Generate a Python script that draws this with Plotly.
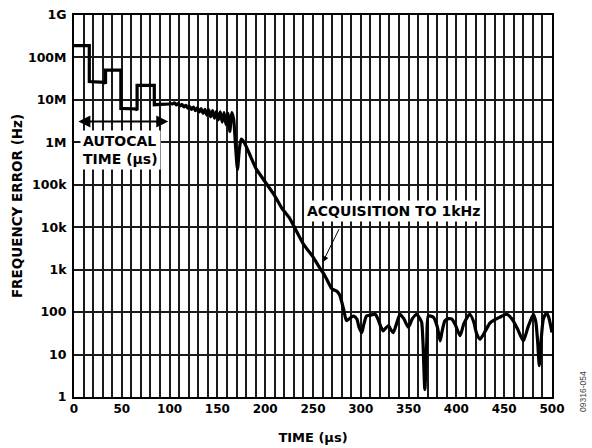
import plotly.graph_objects as go
import math

# Autocal step segment (time in µs, frequency error in Hz)
step_t = [0, 16, 16, 32, 33, 33, 49, 49, 65, 66, 66, 84, 84, 100]
step_f = [1.9e8, 1.9e8, 2.7e7, 2.6e7, 2.4e7, 5.0e7, 5.0e7, 6.3e6, 6.1e6, 5.7e6, 2.2e7, 2.2e7, 7.7e6, 8.0e6]

# Settling / acquisition / noise segment
acq_t = [100, 103, 105, 107, 109, 111, 113, 115, 117, 119, 121, 123, 125, 127, 129, 131, 133,
         135, 137, 139, 141, 143, 145, 147, 149, 151, 153, 155, 157, 159, 161, 163, 165, 167,
         169, 171, 173, 175, 178, 185, 190, 198, 210, 217, 225, 240, 250, 257, 262, 266, 270,
         275, 278, 282, 285, 288, 290, 293, 296, 298, 301, 303, 306, 310, 315, 318, 321, 323.5,
         326, 329, 331, 334, 337, 341, 345, 349.7, 354, 358.5, 361, 363.6, 365, 367, 369, 370.7,
         376, 380, 383, 385, 388, 392, 395, 399, 403.8, 408, 414, 418, 421, 424.7, 430, 435,
         438.6, 445, 452.6, 458, 464, 470, 475, 480.5, 483, 485, 486.7, 488.5, 491, 494.4, 497, 500]
acq_f = [8.3e6, 8.0e6, 8.5e6, 7.6e6, 8.2e6, 7.2e6, 7.8e6, 6.8e6, 7.4e6, 6.4e6, 7.0e6, 6.0e6,
         6.8e6, 5.6e6, 6.5e6, 5.2e6, 6.2e6, 4.8e6, 6.0e6, 4.4e6, 5.8e6, 4.0e6, 5.6e6, 3.7e6,
         5.4e6, 3.4e6, 5.2e6, 3.0e6, 5.0e6, 2.6e6, 4.8e6, 1.8e6, 5.0e6, 3.5e6, 8.0e5, 2.3e5,
         7.0e5, 1.2e6, 1.0e6, 4.5e5, 2.5e5, 1.35e5, 5.5e4, 2.9e4, 1.7e4, 4.0e3, 2.0e3, 1.1e3,
         7.5e2, 5.0e2, 3.5e2, 3.1e2, 2.5e2, 1.17e2, 63, 70, 76, 80, 68, 45, 33, 50, 81, 85, 89,
         68, 45, 36, 42, 48, 40, 33, 50, 89, 70, 44, 70, 89, 75, 58, 20, 1.5, 20, 81, 76, 45,
         21, 35, 63, 70, 69, 50, 28, 55, 89, 60, 32, 23, 35, 55, 63, 75, 89, 70, 40, 21, 45,
         89, 60, 20, 5.5, 20, 70, 98, 70, 33]

y_vals = [1, 10, 100, 1e3, 1e4, 1e5, 1e6, 1e7, 1e8, 1e9]
y_text = ["1", "10", "100", "1k", "10k", "100k", "1M", "10M", "100M", "1G"]
x_vals = list(range(0, 501, 10))
x_text = [str(v) if v % 50 == 0 else "" for v in x_vals]

FONT = "DejaVu Sans, Arial, sans-serif"

fig = go.Figure()
fig.add_trace(go.Scatter(x=step_t, y=step_f, mode="lines",
                         line=dict(color="black", width=3.2), showlegend=False))
fig.add_trace(go.Scatter(x=acq_t, y=acq_f, mode="lines",
                         line=dict(color="black", width=3.2, shape="spline", smoothing=0.6),
                         showlegend=False))

# AUTOCAL double arrow
fig.add_annotation(x=98.6, y=math.log10(3.1e6), ax=3, ay=math.log10(3.1e6),
                   xref="x", yref="y", axref="x", ayref="y", text="",
                   showarrow=True, arrowhead=2, startarrowhead=2, arrowside="end+start",
                   arrowsize=1.2, arrowwidth=2, arrowcolor="black")
fig.add_annotation(x=6, y=5.83, xref="x", yref="y", xanchor="left", yanchor="middle",
                   text="AUTOCAL<br>TIME (µs)", showarrow=False, align="left",
                   bgcolor="white", borderpad=2,
                   font=dict(family=FONT, size=14, color="black", weight="bold"))

# Acquisition annotation
fig.add_annotation(x=260, y=3.17, ax=278, ay=3.99, xref="x", yref="y", axref="x", ayref="y",
                   text="", showarrow=True, arrowhead=2, arrowsize=1.3, arrowwidth=1,
                   arrowcolor="black")
fig.add_annotation(x=334, y=4.38, xref="x", yref="y", text="ACQUISITION TO 1kHz",
                   showarrow=False, bgcolor="white", borderpad=2,
                   font=dict(family=FONT, size=14, color="black", weight="bold"))

fig.add_annotation(x=1.078, y=-0.045, xref="paper", yref="paper", text="09316-054",
                   textangle=-90, showarrow=False,
                   font=dict(family="Liberation Sans, Arial", size=8.5, color="#444"))

fig.update_layout(
    width=592, height=448,
    margin=dict(l=74, r=40, t=15, b=51),
    plot_bgcolor="white", paper_bgcolor="white",
    font=dict(family=FONT, color="black"),
)
fig.update_xaxes(range=[0, 500], tickvals=x_vals, ticktext=x_text,
                 showgrid=True, gridcolor="#1a1a1a", gridwidth=1.6,
                 showline=True, linecolor="black", linewidth=2, mirror=True,
                 ticks="", zeroline=False, automargin=False,
                 tickfont=dict(family=FONT, size=12, weight="bold"),
                 title=dict(text="TIME (µs)", standoff=17,
                            font=dict(family=FONT, size=13, weight="bold")))
fig.update_yaxes(type="log", range=[0, 9], tickvals=y_vals, ticktext=y_text,
                 showgrid=True, gridcolor="#1a1a1a", gridwidth=1.6,
                 showline=True, linecolor="black", linewidth=2, mirror=True,
                 ticks="", zeroline=False, automargin=False, ticklabelstandoff=3,
                 tickfont=dict(family=FONT, size=12.5, weight="bold"),
                 title=dict(text="FREQUENCY ERROR (Hz)", standoff=2,
                            font=dict(family=FONT, size=13.5, weight="bold")))

fig.write_html("out.html", config={"displayModeBar": False},
               post_script="document.body.style.margin='0';")
